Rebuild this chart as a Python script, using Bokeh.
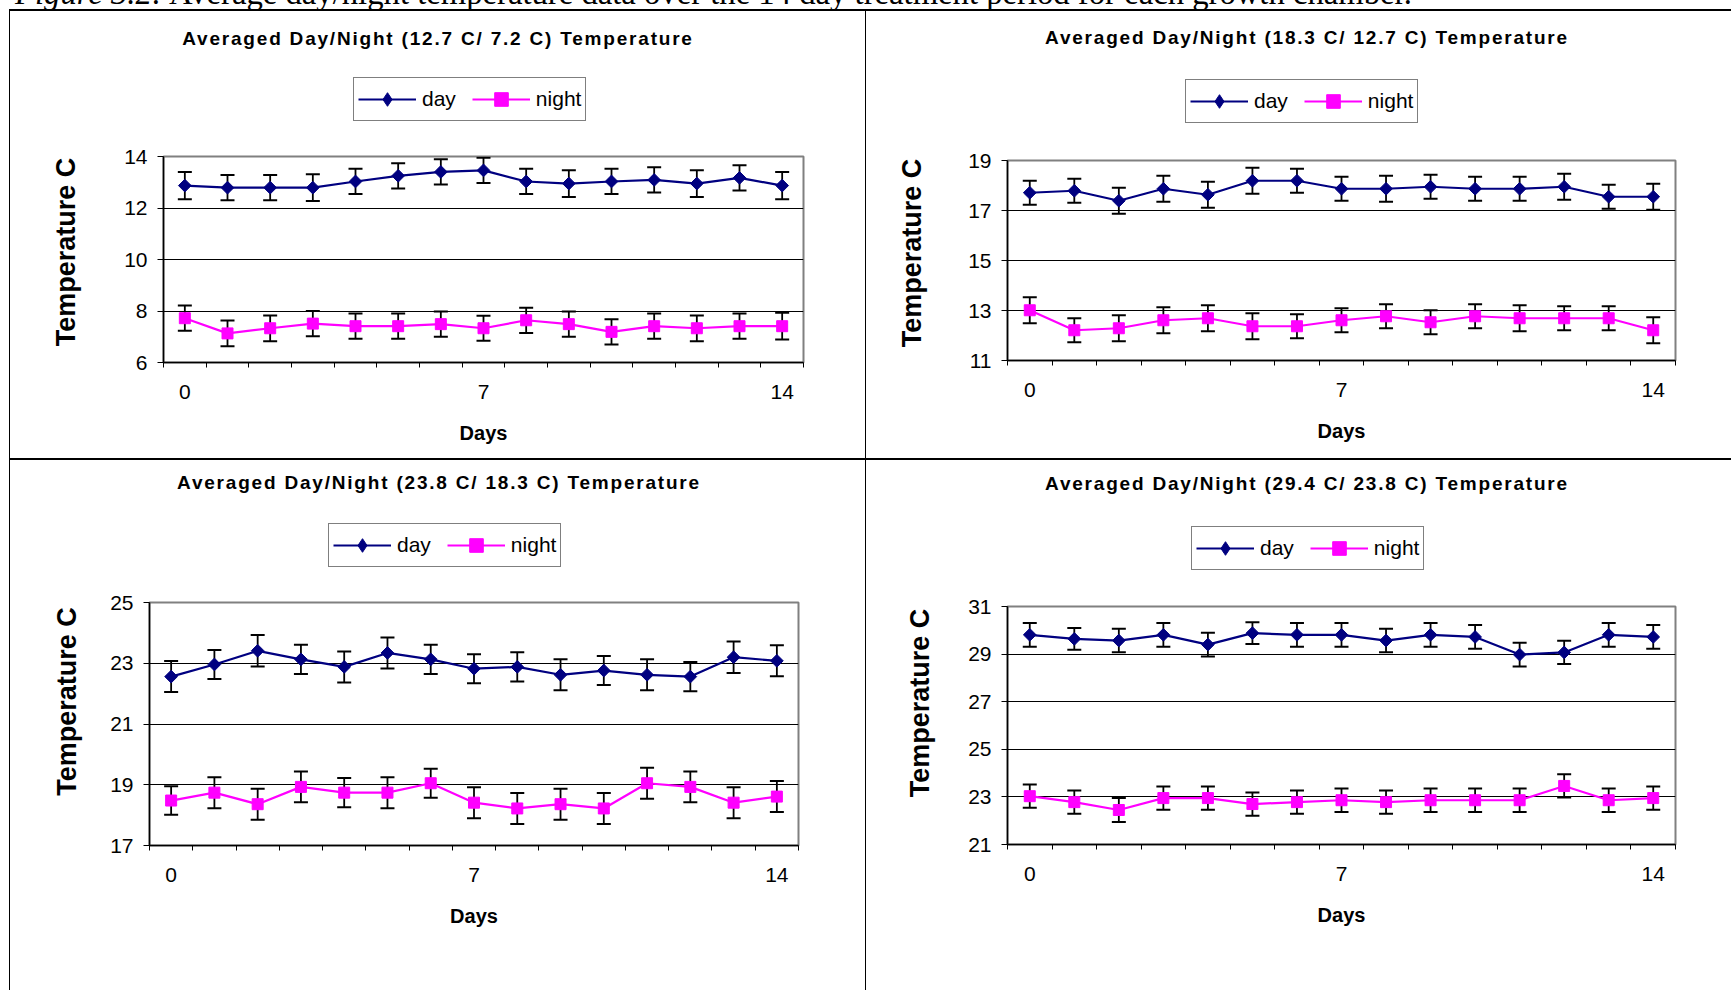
import numpy as np
from bokeh.plotting import figure
from bokeh.models import (ColumnDataSource, Whisker, TeeHead, FixedTicker, Legend,
                          LegendItem, Div, Range1d)
from bokeh.layouts import row, column
from bokeh.embed import file_html
from bokeh.resources import INLINE

# ---------------- data ----------------
days = list(range(15))
labelled_days = [0, 7, 14]
series_names = ["day", "night"]

caption_lead = "Figure 3.2:"
caption_rest = " Average day/night temperature data over the 14 day treatment period for each growth chamber."

titles = [
    "Averaged Day/Night (12.7 C/ 7.2 C) Temperature",
    "Averaged Day/Night (18.3 C/ 12.7 C) Temperature",
    "Averaged Day/Night (23.8 C/ 18.3 C) Temperature",
    "Averaged Day/Night (29.4 C/ 23.8 C) Temperature",
]
y_label = "Temperature C"
x_label = "Days"

y_ticks_1 = [6, 8, 10, 12, 14]
y_ticks_2 = [11, 13, 15, 17, 19]
y_ticks_3 = [17, 19, 21, 23, 25]
y_ticks_4 = [21, 23, 25, 27, 29, 31]

day_1 = [12.87, 12.79, 12.79, 12.79, 13.03, 13.25, 13.40, 13.46, 13.03, 12.95, 13.03, 13.09, 12.95, 13.17, 12.87]
day_err_1 = [0.53, 0.49, 0.49, 0.52, 0.49, 0.49, 0.49, 0.49, 0.49, 0.52, 0.49, 0.49, 0.52, 0.49, 0.53]
night_1 = [7.72, 7.13, 7.33, 7.51, 7.41, 7.41, 7.49, 7.33, 7.64, 7.49, 7.19, 7.41, 7.33, 7.41, 7.41]
night_err_1 = [0.49, 0.50, 0.50, 0.49, 0.49, 0.49, 0.49, 0.49, 0.49, 0.49, 0.49, 0.49, 0.50, 0.49, 0.52]

day_2 = [17.71, 17.79, 17.39, 17.87, 17.63, 18.19, 18.19, 17.87, 17.87, 17.95, 17.87, 17.87, 17.95, 17.55, 17.55]
day_err_2 = [0.48, 0.48, 0.52, 0.52, 0.52, 0.52, 0.48, 0.48, 0.52, 0.48, 0.48, 0.48, 0.52, 0.48, 0.52]
night_2 = [13.01, 12.21, 12.29, 12.61, 12.69, 12.37, 12.37, 12.61, 12.77, 12.53, 12.77, 12.69, 12.69, 12.69, 12.21]
night_err_2 = [0.52, 0.48, 0.52, 0.52, 0.52, 0.52, 0.48, 0.48, 0.48, 0.48, 0.48, 0.52, 0.48, 0.48, 0.52]

day_3 = [22.56, 22.96, 23.41, 23.13, 22.88, 23.34, 23.13, 22.82, 22.88, 22.62, 22.76, 22.62, 22.56, 23.20, 23.08]
day_err_3 = [0.51, 0.48, 0.52, 0.48, 0.51, 0.51, 0.48, 0.48, 0.48, 0.51, 0.48, 0.51, 0.48, 0.52, 0.51]
night_3 = [18.48, 18.74, 18.36, 18.93, 18.74, 18.74, 19.05, 18.41, 18.22, 18.36, 18.22, 19.05, 18.93, 18.41, 18.61]
night_err_3 = [0.47, 0.51, 0.51, 0.51, 0.48, 0.51, 0.48, 0.51, 0.51, 0.51, 0.51, 0.51, 0.51, 0.51, 0.51]

day_4 = [29.81, 29.64, 29.57, 29.81, 29.40, 29.88, 29.81, 29.81, 29.57, 29.81, 29.72, 28.98, 29.07, 29.81, 29.72]
day_err_4 = [0.50, 0.46, 0.49, 0.50, 0.50, 0.46, 0.50, 0.50, 0.49, 0.50, 0.50, 0.50, 0.49, 0.50, 0.50]
night_4 = [23.03, 22.78, 22.45, 22.95, 22.95, 22.70, 22.78, 22.86, 22.78, 22.86, 22.86, 22.86, 23.46, 22.86, 22.95]
night_err_4 = [0.49, 0.49, 0.50, 0.49, 0.49, 0.49, 0.49, 0.49, 0.49, 0.49, 0.49, 0.49, 0.49, 0.49, 0.49]

# ---------------- styling / geometry ----------------
NAVY = "#000080"
MAGENTA = "#FF00FF"
FONT = "Liberation Sans"
NBSP = "\u00a0"

PAGE_W = 1731
CAP_H = 9
LEFT_PAD = 9
TOP_H = 447
BOT_H = 530
LEFT_W = 855
RIGHT_W = 865
LEG_W = 246
LEG_H = 48

geo = [
    dict(w=LEFT_W, h=TOP_H, title_h=64, leg_x=341, left=153, right=62, top=33, bottom=96,
         tcx=428, tcy=28, ylab_standoff=40, ylab_lift=2),
    dict(w=RIGHT_W, h=TOP_H, title_h=66, leg_x=317, left=141, right=56, top=35, bottom=98,
         tcx=441, tcy=27, ylab_standoff=38, ylab_lift=2),
    dict(w=LEFT_W, h=BOT_H, title_h=61, leg_x=316, left=139, right=67, top=33, bottom=145,
         tcx=429, tcy=23, ylab_standoff=25, ylab_lift=6),
    dict(w=RIGHT_W, h=BOT_H, title_h=64, leg_x=323, left=141, right=56, top=34, bottom=146,
         tcx=441, tcy=24, ylab_standoff=30, ylab_lift=6),
]

SERIES_STYLE = {
    "day": dict(color=NAVY, marker="square", size=9, angle=np.pi / 4, legend_marker="diamond"),
    "night": dict(color=MAGENTA, marker="square", size=11, angle=0.0, legend_marker="square"),
}


def add_series(p, vals, errs, name, with_errors=True, visible=True, legend_proxy=False):
    st = SERIES_STYLE[name]
    src = ColumnDataSource(dict(
        x=days, y=vals,
        upper=[v + e for v, e in zip(vals, errs)],
        lower=[v - e for v, e in zip(vals, errs)]))
    if with_errors:
        wh = Whisker(source=src, base="x", upper="upper", lower="lower",
                     line_color="black", line_width=1.8,
                     upper_head=TeeHead(size=14, line_color="black", line_width=2),
                     lower_head=TeeHead(size=14, line_color="black", line_width=2))
        p.add_layout(wh)
    marker = st["legend_marker"] if legend_proxy else st["marker"]
    lr = p.line("x", "y", source=src, line_color=st["color"], line_width=2.2, visible=visible)
    sr = p.scatter("x", "y", source=src, marker=marker, size=st["size"], angle=st["angle"],
                   fill_color=st["color"], line_color=st["color"], visible=visible)
    return [lr, sr]


def make_legend_fig(day, day_err, night, night_err, yticks):
    lf = figure(width=LEG_W, height=LEG_H, x_axis_type=None, y_axis_type=None,
                x_range=Range1d(days[0] - 0.5, days[-1] + 0.5),
                y_range=Range1d(yticks[0], yticks[-1]),
                output_backend="svg", toolbar_location=None, title=None,
                min_border=0)
    lf.outline_line_color = None
    lf.background_fill_color = "white"
    lf.border_fill_color = "white"
    lf.xgrid.visible = False
    lf.ygrid.visible = False
    rs = {
        "day": add_series(lf, day, day_err, "day", with_errors=False, visible=False,
                          legend_proxy=True),
        "night": add_series(lf, night, night_err, "night", with_errors=False, visible=False,
                            legend_proxy=True),
    }
    legend = Legend(items=[LegendItem(label=n, renderers=rs[n]) for n in series_names],
                    orientation="horizontal", location=(2, 2))
    legend.border_line_color = "black"
    legend.border_line_width = 1.2
    legend.background_fill_color = "white"
    legend.background_fill_alpha = 1.0
    legend.label_text_font = FONT
    legend.label_text_font_size = "21px"
    legend.label_text_color = "black"
    legend.glyph_width = 58
    legend.glyph_height = 34
    legend.label_standoff = 6
    legend.spacing = 16
    legend.padding = 4
    legend.margin = 0
    legend.click_policy = "none"
    lf.add_layout(legend)
    return lf


def make_panel(title, day, day_err, night, night_err, yticks, g):
    fig_h = g["h"] - g["title_h"] - LEG_H
    p = figure(width=g["w"], height=fig_h,
               x_range=Range1d(days[0] - 0.5, days[-1] + 0.5),
               y_range=Range1d(yticks[0], yticks[-1]),
               output_backend="svg", toolbar_location=None, title=None,
               min_border_left=g["left"], min_border_right=g["right"],
               min_border_top=g["top"], min_border_bottom=g["bottom"])
    p.background_fill_color = "white"
    p.border_fill_color = "white"
    p.outline_line_color = "#808080"
    p.outline_line_width = 2

    # x axis: small ticks at category boundaries, labels at 0 / 7 / 14
    bounds = [d - 0.5 for d in days] + [days[-1] + 0.5]
    p.xaxis.ticker = FixedTicker(ticks=labelled_days, minor_ticks=bounds)
    p.xaxis.major_tick_out = 0
    p.xaxis.major_tick_in = 0
    p.xaxis.minor_tick_out = 5
    p.xaxis.minor_tick_in = 0
    p.xaxis.minor_tick_line_color = "black"
    p.xaxis.axis_line_color = "black"
    p.xaxis.axis_line_width = 1.5
    p.xaxis.major_label_standoff = 17
    p.xaxis.axis_label = x_label
    p.xaxis.axis_label_standoff = 20

    p.yaxis.ticker = FixedTicker(ticks=yticks, minor_ticks=[])
    p.yaxis.major_tick_out = 6
    p.yaxis.major_tick_in = 0
    p.yaxis.major_tick_line_color = "black"
    p.yaxis.axis_line_color = "black"
    p.yaxis.axis_line_width = 1.5
    p.yaxis.major_label_standoff = 10
    # leading no-break spaces lift the label slightly above the axis centre, as in the original
    p.yaxis.axis_label = NBSP * g["ylab_lift"] + y_label
    p.yaxis.axis_label_standoff = g["ylab_standoff"]

    for ax in (p.xaxis[0], p.yaxis[0]):
        ax.major_label_text_font = FONT
        ax.major_label_text_font_size = "21px"
        ax.major_label_text_color = "black"
        ax.axis_label_text_font = FONT
        ax.axis_label_text_font_style = "bold"
        ax.axis_label_text_color = "black"
    p.xaxis.axis_label_text_font_size = "20px"
    p.yaxis.axis_label_text_font_size = "27px"

    p.xgrid.visible = False
    p.ygrid.ticker = FixedTicker(ticks=yticks[1:-1], minor_ticks=[])
    p.ygrid.grid_line_color = "black"
    p.ygrid.grid_line_width = 1.2

    add_series(p, day, day_err, "day")
    add_series(p, night, night_err, "night")

    title_div = Div(
        text=(f'<div style="width:{2 * g["tcx"]}px;text-align:center;margin-top:{g["tcy"] - 11}px;'
              f"font-family:'{FONT}',Arial,sans-serif;font-weight:bold;font-size:19px;"
              f'line-height:22px;letter-spacing:1.8px;white-space:nowrap;color:black">{title}</div>'),
        width=g["w"], height=g["title_h"], margin=0)
    legend_row = row(Div(text="", width=g["leg_x"], height=LEG_H, margin=0),
                     make_legend_fig(day, day_err, night, night_err, yticks), spacing=0)
    return column(title_div, legend_row, p, spacing=0)


panels = [
    make_panel(titles[0], day_1, day_err_1, night_1, night_err_1, y_ticks_1, geo[0]),
    make_panel(titles[1], day_2, day_err_2, night_2, night_err_2, y_ticks_2, geo[1]),
    make_panel(titles[2], day_3, day_err_3, night_3, night_err_3, y_ticks_3, geo[2]),
    make_panel(titles[3], day_4, day_err_4, night_4, night_err_4, y_ticks_4, geo[3]),
]

caption = Div(
    text=('<div style="position:relative;top:-23px;left:15px;white-space:nowrap;'
          "font-family:'Liberation Serif','Times New Roman',serif;font-size:32.7px;line-height:32.7px;color:black\">"
          f"<i>{caption_lead}</i>{caption_rest}</div>"),
    width=PAGE_W, height=CAP_H, margin=0, styles={"overflow": "hidden"})


def blank(w, h):
    return Div(text="", width=w, height=h, margin=0)


def hline():
    return row(blank(LEFT_PAD, 2),
               Div(text="", width=PAGE_W - LEFT_PAD, height=2, margin=0,
                   styles={"background-color": "black"}), spacing=0)


def vline(h):
    return Div(text="", width=1, height=h, margin=0,
               styles={"background-color": "black"})


layout = column(
    caption,
    hline(),
    row(blank(LEFT_PAD, TOP_H), vline(TOP_H), panels[0], vline(TOP_H), panels[1], spacing=0),
    hline(),
    row(blank(LEFT_PAD, BOT_H), vline(BOT_H), panels[2], vline(BOT_H), panels[3], spacing=0),
    spacing=0,
)

open("out.html", "w").write(file_html(layout, INLINE, title="Averaged Day/Night Temperature"))
